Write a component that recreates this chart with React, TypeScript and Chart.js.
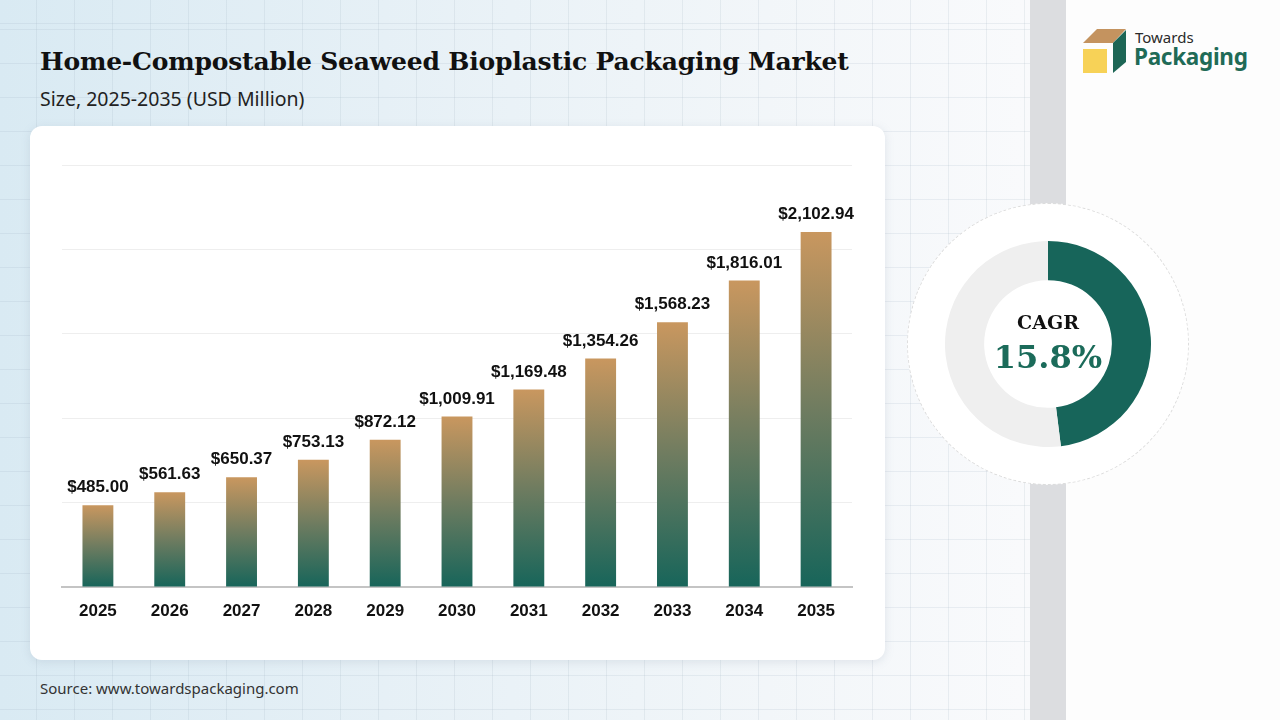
import React, { useEffect, useRef } from "react";
import { Chart, registerables } from "chart.js";

Chart.register(...registerables);

const years = ["2025", "2026", "2027", "2028", "2029", "2030", "2031", "2032", "2033", "2034", "2035"];
const marketSize = [485.0, 561.63, 650.37, 753.13, 872.12, 1009.91, 1169.48, 1354.26, 1568.23, 1816.01, 2102.94];
const valueLabels = ["$485.00", "$561.63", "$650.37", "$753.13", "$872.12", "$1,009.91", "$1,169.48", "$1,354.26", "$1,568.23", "$1,816.01", "$2,102.94"];
const yMax = 2500;
const yStep = 500;
const cagrLabel = "CAGR";
const cagrValue = "15.8%";
const donutShares = [48, 52];

const TAN = "#c9975f";
const GREEN = "#17655a";

const labelPlugin = {
  id: "barValueLabels",
  afterDatasetsDraw(chart: any) {
    const ctx = chart.ctx;
    const meta = chart.getDatasetMeta(0);
    ctx.save();
    ctx.font = "bold 17px 'Liberation Sans', Arial, sans-serif";
    ctx.fillStyle = "#111111";
    ctx.textAlign = "center";
    ctx.textBaseline = "bottom";
    meta.data.forEach((bar: any, i: number) => {
      ctx.fillText(valueLabels[i], bar.x, bar.y - 9);
    });
    ctx.restore();
  },
};

function BarChart() {
  const ref = useRef<HTMLCanvasElement>(null);
  useEffect(() => {
    if (!ref.current) return;
    const chart = new Chart(ref.current, {
      type: "bar",
      data: {
        labels: years,
        datasets: [
          {
            data: marketSize,
            barPercentage: 0.43,
            categoryPercentage: 1,
            backgroundColor: (c: any) => {
              const ch = c.chart;
              const y = ch.scales && ch.scales.y;
              if (!ch.chartArea || !y || c.dataIndex === undefined) return GREEN;
              const top = y.getPixelForValue(marketSize[c.dataIndex]);
              const bottom = y.getPixelForValue(0);
              if (!isFinite(top) || !isFinite(bottom) || top === bottom) return GREEN;
              const g = ch.ctx.createLinearGradient(0, top, 0, bottom);
              g.addColorStop(0, TAN);
              g.addColorStop(0.5, "#6f7c60");
              g.addColorStop(1, GREEN);
              return g;
            },
          },
        ],
      },
      options: {
        animation: false,
        responsive: false,
        maintainAspectRatio: false,
        layout: { padding: { left: 32, right: 33, top: 39, bottom: 0 } },
        plugins: { legend: { display: false }, tooltip: { enabled: false } },
        scales: {
          x: {
            grid: { display: false, drawTicks: false },
            border: { display: true, color: "#c4c4c4", width: 2 },
            ticks: {
              color: "#111111",
              padding: 14,
              font: { family: "'Liberation Sans', Arial, sans-serif", size: 17, weight: "bold" },
            },
            afterFit: (s: any) => {
              s.height = 73;
            },
          },
          y: {
            min: 0,
            max: yMax,
            ticks: { display: false, stepSize: yStep },
            border: { display: false },
            grid: { color: "#eeeeee", drawTicks: false, lineWidth: 1 },
            afterFit: (s: any) => {
              s.width = 0;
            },
          },
        },
      },
      plugins: [labelPlugin],
    });
    return () => chart.destroy();
  }, []);
  return <canvas ref={ref} width={855} height={534} style={{ width: 855, height: 534, display: "block" }} />;
}

function Donut() {
  const ref = useRef<HTMLCanvasElement>(null);
  useEffect(() => {
    if (!ref.current) return;
    const chart = new Chart(ref.current, {
      type: "doughnut",
      data: {
        labels: ["CAGR", "Rest"],
        datasets: [
          {
            data: donutShares,
            backgroundColor: [GREEN, "#efefef"],
            borderWidth: 0,
          },
        ],
      },
      options: {
        animation: false,
        responsive: false,
        maintainAspectRatio: false,
        cutout: "62%",
        layout: { padding: 0 },
        plugins: { legend: { display: false }, tooltip: { enabled: false } },
      },
    });
    return () => chart.destroy();
  }, []);
  return <canvas ref={ref} width={206} height={206} style={{ width: 206, height: 206, display: "block" }} />;
}

function Logo() {
  return (
    <div style={{ position: "absolute", left: 1083, top: 28, width: 180, height: 50 }}>
      <svg width="46" height="48" viewBox="0 0 46 48" style={{ position: "absolute", left: 0, top: 0 }}>
        <polygon points="0,15 14,1 43,1 30,15" fill="#c4935f" />
        <polygon points="30,15 43,2 43,34 30,45" fill="#1d6655" />
        <rect x="0" y="21" width="24" height="24" fill="#f7d257" />
      </svg>
      <div
        style={{
          position: "absolute",
          left: 52,
          top: 0,
          fontFamily: "'Noto Sans', sans-serif",
          fontSize: 15,
          color: "#2a2a2a",
          lineHeight: "18px",
        }}
      >
        Towards
      </div>
      <div
        style={{
          position: "absolute",
          left: 51,
          top: 15,
          fontFamily: "'Noto Sans', sans-serif",
          fontSize: 22.5,
          fontWeight: 700,
          color: "#1f6b57",
          lineHeight: "28px",
          letterSpacing: -0.3,
        }}
      >
        Packaging
      </div>
    </div>
  );
}

export default function App() {
  useEffect(() => {
    document.body.style.margin = "0";
  }, []);
  const gridBg =
    "repeating-linear-gradient(90deg, rgba(150,170,185,0.16) 0px, rgba(150,170,185,0.16) 1px, transparent 1px, transparent 38px)," +
    "repeating-linear-gradient(0deg, rgba(150,170,185,0.16) 0px, rgba(150,170,185,0.16) 1px, transparent 1px, transparent 34px)";
  return (
    <div
      style={{
        position: "fixed",
        left: 0,
        top: 0,
        width: 1280,
        height: 720,
        overflow: "hidden",
        background: "linear-gradient(90deg, #d9eaf3 0%, #e6f0f6 30%, #f2f6f9 60%, #f9fafc 80%, #fbfcfd 100%)",
      }}
    >
      <div style={{ position: "absolute", inset: 0, backgroundImage: gridBg, backgroundPosition: "-2px 24px" }} />
      <div style={{ position: "absolute", left: 1030, top: 0, width: 36, height: 720, background: "#dcdde0" }} />
      <div style={{ position: "absolute", left: 1066, top: 0, width: 214, height: 720, background: "#fdfdfd" }} />
      <Logo />
      <div
        style={{
          position: "absolute",
          left: 40,
          top: 47,
          fontFamily: "'DejaVu Serif', serif",
          fontWeight: 700,
          fontSize: 25,
          color: "#111111",
          whiteSpace: "nowrap",
          letterSpacing: -0.2,
        }}
      >
        Home-Compostable Seaweed Bioplastic Packaging Market
      </div>
      <div
        style={{
          position: "absolute",
          left: 40,
          top: 85,
          fontFamily: "'Noto Sans', sans-serif",
          fontSize: 19.5,
          color: "#222222",
          whiteSpace: "nowrap",
        }}
      >
        Size, 2025-2035 (USD Million)
      </div>
      <div
        style={{
          position: "absolute",
          left: 30,
          top: 126,
          width: 855,
          height: 534,
          background: "#ffffff",
          borderRadius: 12,
          boxShadow: "0 2px 10px rgba(120,140,160,0.18)",
        }}
      >
        <BarChart />
      </div>
      <div
        style={{
          position: "absolute",
          left: 40,
          top: 678,
          fontFamily: "'Noto Sans', sans-serif",
          fontSize: 15,
          color: "#333333",
          whiteSpace: "nowrap",
        }}
      >
        Source: www.towardspackaging.com
      </div>
      <div
        style={{
          position: "absolute",
          left: 1048 - 141,
          top: 344 - 141,
          width: 280,
          height: 280,
          borderRadius: "50%",
          background: "#ffffff",
          border: "1px dashed #dddddd",
        }}
      />
      <div style={{ position: "absolute", left: 1048 - 103, top: 344 - 103 }}>
        <Donut />
      </div>
      <div
        style={{
          position: "absolute",
          left: 948,
          top: 308,
          width: 200,
          textAlign: "center",
          fontFamily: "'DejaVu Serif', serif",
          fontWeight: 700,
          fontSize: 19,
          color: "#111111",
          lineHeight: "28px",
        }}
      >
        {cagrLabel}
      </div>
      <div
        style={{
          position: "absolute",
          left: 948,
          top: 336,
          width: 200,
          textAlign: "center",
          fontFamily: "'DejaVu Serif', serif",
          fontWeight: 700,
          fontSize: 32,
          color: "#1b6b5a",
          lineHeight: "42px",
        }}
      >
        {cagrValue}
      </div>
    </div>
  );
}
